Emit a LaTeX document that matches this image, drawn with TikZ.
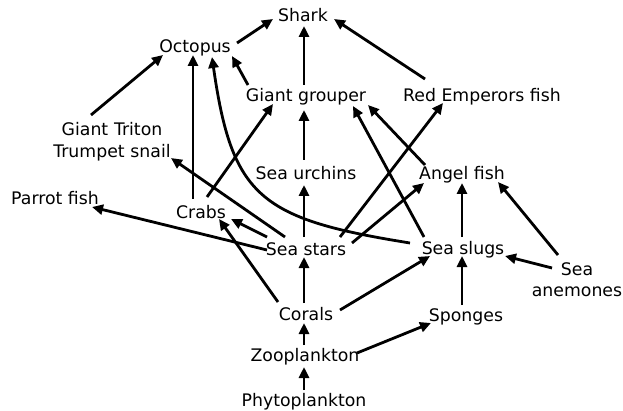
\documentclass[tikz,border=0pt]{standalone}
\usepackage{fontspec}
\setmainfont{DejaVu Sans}
\usetikzlibrary{arrows.meta}
\begin{document}
\begin{tikzpicture}[x=1pt,y=1pt,
  lbl/.style={anchor=base,inner sep=0pt,font=\fontsize{17.3}{21.5}\selectfont},
  lbl2/.style={lbl,text width=140pt,align=center},
  arr/.style={line width=2.8pt,-{Triangle[length=11pt,width=10pt]}}]
\useasboundingbox (0,0) rectangle (623,410);
% nodes placed at (centre x, 410 - baseline)
\node[lbl] (shark)  at (303,388) {Shark};
\node[lbl] (oct)    at (195,357) {Octopus};
\node[lbl] (grp)    at (306,308) {Giant grouper};
\node[lbl] (red)    at (482,308) {Red Emperors fish};
\node[lbl2] (triton) at (112,274) {Giant Triton\\Trumpet snail};
\node[lbl] (urch)   at (306,230) {Sea urchins};
\node[lbl] (angel)  at (462,230) {Angel fish};
\node[lbl] (parrot) at (55,205) {Parrot fish};
\node[lbl] (crabs)  at (201,192) {Crabs};
\node[lbl] (stars)  at (306,155) {Sea stars};
\node[lbl] (slugs)  at (463,156) {Sea slugs};
\node[lbl2] (anem)  at (577,135) {Sea\\anemones};
\node[lbl] (corals) at (306,90) {Corals};
\node[lbl] (spong)  at (466,89) {Sponges};
\node[lbl] (zoo)    at (305,49) {Zooplankton};
\node[lbl] (phyto)  at (304,4) {Phytoplankton};
% connectors
\draw[arr] ([shift={(42,10)}]oct.base) -- ([shift={(-30,3)}]shark.base);
\draw[arr] ([shift={(-2,17)}]grp.base) -- ([shift={(1,-4)}]shark.base);
\draw[arr] ([shift={(-57,23)}]red.base) -- ([shift={(31,3)}]shark.base);
\draw[arr] ([shift={(-58,17)}]grp.base) -- ([shift={(37,-3)}]oct.base);
\draw[arr] ([shift={(-21,21)}]triton.base) -- ([shift={(-32,-2)}]oct.base);
\draw[arr] ([shift={(-8,19)}]crabs.base) -- ([shift={(-2,-2)}]oct.base);
\draw[arr] ([shift={(-53,11)}]slugs.base) .. controls +(-150,24) and +(20,-140) .. ([shift={(17,-4)}]oct.base);
\draw[arr] ([shift={(-2,20)}]urch.base) -- ([shift={(-2,-8)}]grp.base);
\draw[arr] ([shift={(-2,18)}]stars.base) -- ([shift={(-2,-5)}]urch.base);
\draw[arr] ([shift={(6,21)}]crabs.base) -- ([shift={(-33,-2)}]grp.base);
\draw[arr] ([shift={(34,18)}]stars.base) -- ([shift={(-39,-1)}]red.base);
\draw[arr] ([shift={(46,12)}]stars.base) -- ([shift={(-38,-3)}]angel.base);
\draw[arr] ([shift={(-39,17)}]slugs.base) -- ([shift={(47,-4)}]grp.base);
\draw[arr] ([shift={(-37,15)}]angel.base) -- ([shift={(62,-3)}]grp.base);
\draw[arr] ([shift={(-1,17)}]slugs.base) -- ([shift={(0,-3)}]angel.base);
\draw[arr] ([shift={(-19,20)}]anem.base) -- ([shift={(36,-2)}]angel.base);
\draw[arr] ([shift={(-25,7)}]anem.base) -- ([shift={(42,-2)}]slugs.base);
\draw[arr] ([shift={(-21,18)}]stars.base) -- ([shift={(59,-22)}]triton.base);
\draw[arr] ([shift={(-39,18)}]stars.base) -- ([shift={(30,-1)}]crabs.base);
\draw[arr] ([shift={(-39,5)}]stars.base) -- ([shift={(37,-2)}]parrot.base);
\draw[arr] ([shift={(-28,18)}]corals.base) -- ([shift={(18,-1)}]crabs.base);
\draw[arr] ([shift={(-2,17)}]corals.base) -- ([shift={(-2,-2)}]stars.base);
\draw[arr] ([shift={(34,10)}]corals.base) -- ([shift={(-33,-2)}]slugs.base);
\draw[arr] ([shift={(-1,16)}]zoo.base) -- ([shift={(-2,-3)}]corals.base);
\draw[arr] ([shift={(52,8)}]zoo.base) -- ([shift={(-35,-2)}]spong.base);
\draw[arr] ([shift={(0,16)}]phyto.base) -- ([shift={(-1,-6)}]zoo.base);
\draw[arr] ([shift={(-4,16)}]spong.base) -- ([shift={(-1,-2)}]slugs.base);
\end{tikzpicture}
\end{document}
